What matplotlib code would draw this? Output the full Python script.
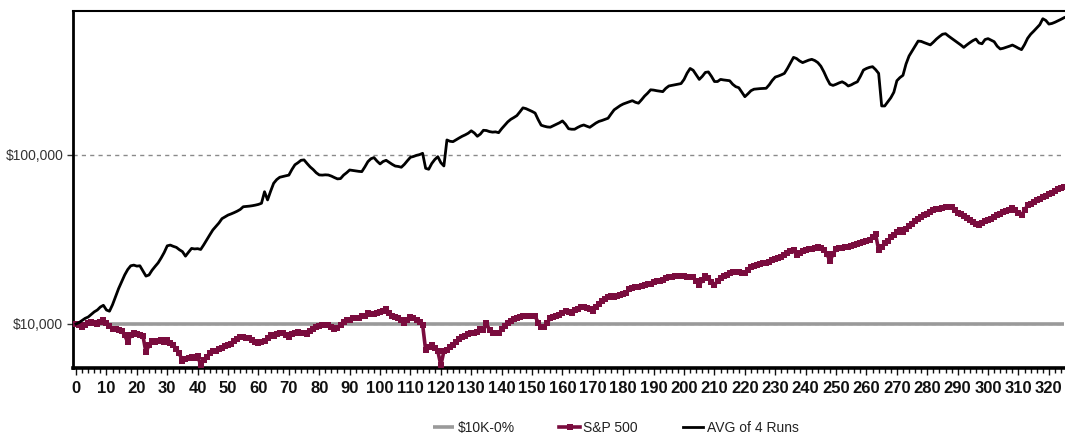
import numpy as np
import matplotlib
matplotlib.use("Agg")
import matplotlib.pyplot as plt
from matplotlib.ticker import MultipleLocator, FixedLocator, FixedFormatter, NullLocator

# ---- data (values in thousands of dollars, one per month) ----
avg_k = [
    10.0, 10.2, 10.5, 10.8, 11.0, 11.4, 11.8, 12.1, 12.6, 12.9,
    12.1, 11.9, 13.0, 14.5, 16.2, 17.8, 19.5, 21.0, 22.1, 22.3,
    22.0, 22.1, 20.6, 19.2, 19.5, 20.8, 21.9, 23.0, 24.6, 26.5,
    29.0, 29.3, 28.8, 28.4, 27.5, 26.8, 25.2, 26.6, 28.0, 27.8,
    27.9, 27.6, 29.4, 31.5, 33.7, 36.0, 37.8, 39.6, 42.0, 43.0,
    44.1, 44.8, 45.6, 46.5, 47.6, 49.4, 49.6, 49.8, 50.1, 50.5,
    51.0, 51.8, 60.6, 54.2, 61.0, 68.0, 71.5, 73.8, 74.6, 75.3,
    76.0, 82.0, 87.5, 90.0, 93.0, 93.5, 89.0, 85.0, 82.0, 78.5,
    76.2, 76.0, 76.3, 76.1, 75.0, 73.5, 72.2, 72.5, 76.0, 78.5,
    81.5, 81.0, 80.5, 80.0, 79.7, 85.0, 91.3, 95.0, 96.5, 92.0,
    88.5, 91.5, 93.0, 90.5, 88.0, 86.0, 85.5, 84.6, 88.0, 92.5,
    96.9, 98.0, 99.5, 100.5, 102.3, 83.4, 82.3, 89.0, 94.0, 97.7,
    90.0, 86.1, 122.7, 120.5, 119.9, 123.0, 126.0, 129.0, 131.5, 134.5,
    139.0, 135.0, 129.0, 133.0, 140.0, 139.5, 137.5, 136.5, 137.0, 135.5,
    143.0, 150.0, 157.0, 162.5, 166.5, 171.0, 180.0, 190.0, 188.0, 184.5,
    181.0, 177.0, 162.0, 150.0, 148.0, 146.5, 146.0, 149.0, 152.0, 155.0,
    159.0, 152.0, 143.0, 142.0, 142.0, 145.5, 148.5, 150.5, 148.0, 145.8,
    150.0, 154.5, 158.0, 160.0, 162.5, 165.0, 175.0, 185.0, 190.5, 196.0,
    200.3, 203.5, 206.5, 209.5, 205.0, 202.5, 212.0, 223.0, 232.0, 243.0,
    242.0, 240.0, 238.5, 237.0, 248.0, 256.0, 258.0, 260.0, 262.0, 264.5,
    280.0, 305.0, 325.0, 317.0, 298.0, 280.0, 292.0, 308.0, 310.0, 292.0,
    272.0, 272.0, 280.0, 278.0, 276.5, 275.0, 262.0, 253.6, 250.0, 235.0,
    221.3, 230.0, 240.0, 245.0, 246.0, 247.0, 247.5, 248.1, 260.0, 276.0,
    289.0, 293.0, 298.0, 304.0, 325.0, 350.0, 378.0, 372.0, 360.0, 352.0,
    358.0, 364.0, 368.0, 362.0, 352.0, 335.0, 310.0, 283.0, 262.0, 258.0,
    262.0, 267.0, 271.0, 265.0, 256.0, 260.0, 266.0, 271.0, 292.0, 318.0,
    325.0, 330.0, 333.0, 320.0, 304.0, 195.0, 195.0, 206.0, 218.0, 235.0,
    275.0, 287.0, 296.0, 345.0, 385.0, 412.0, 440.0, 472.0, 470.0, 462.0,
    455.0, 448.0, 465.0, 485.0, 502.0, 518.0, 522.0, 505.0, 490.0, 475.0,
    462.0, 448.0, 433.0, 448.0, 462.0, 475.0, 485.0, 460.0, 455.0, 482.0,
    488.0, 478.0, 468.0, 440.0, 424.0, 428.0, 434.0, 440.0, 447.0, 438.0,
    428.0, 420.0, 450.0, 490.0, 518.0, 540.0, 565.0, 590.0, 640.0, 625.0,
    595.0, 600.0, 610.0, 622.0, 635.0, 649.0,
]

sp500_k = [
    10.0, 9.8, 9.6, 9.9, 10.1, 10.3, 10.2, 10.0, 10.3, 10.5,
    10.1, 9.7, 9.4, 9.3, 9.2, 9.1, 8.6, 7.8, 8.6, 8.8,
    8.7, 8.6, 8.5, 6.8, 7.5, 7.9, 7.8, 7.9, 8.0, 7.8,
    8.0, 7.7, 7.5, 7.1, 6.7, 6.0, 6.2, 6.3, 6.4, 6.3,
    6.5, 5.7, 6.1, 6.4, 6.7, 6.9, 6.9, 7.1, 7.2, 7.4,
    7.5, 7.6, 7.9, 8.1, 8.4, 8.4, 8.3, 8.3, 8.0, 7.8,
    7.7, 7.8, 7.9, 8.3, 8.6, 8.5, 8.7, 8.9, 8.8, 8.6,
    8.4, 8.7, 8.9, 9.0, 8.9, 8.8, 8.7, 9.1, 9.3, 9.6,
    9.7, 9.9, 9.8, 9.9, 9.6, 9.3, 9.5, 9.9, 10.3, 10.5,
    10.6, 10.8, 10.9, 10.8, 11.1, 11.2, 11.6, 11.5, 11.4, 11.6,
    11.7, 11.9, 12.2, 11.6, 11.2, 11.0, 10.8, 10.5, 10.1, 10.6,
    11.0, 10.8, 10.5, 10.3, 9.9, 7.0, 7.3, 7.5, 7.2, 6.9,
    5.7, 6.9, 7.0, 7.3, 7.5, 7.8, 8.1, 8.4, 8.5, 8.7,
    8.9, 8.8, 9.0, 9.3, 9.2, 10.1, 9.2, 8.8, 8.9, 8.8,
    9.3, 9.7, 10.1, 10.4, 10.7, 10.9, 11.0, 11.1, 11.1, 11.1,
    11.2, 11.1, 10.2, 9.6, 9.6, 10.2, 10.8, 11.0, 11.1, 11.3,
    11.6, 12.0, 11.7, 11.6, 12.1, 12.3, 12.6, 12.6, 12.4, 12.2,
    12.0, 12.6, 13.2, 13.6, 14.0, 14.4, 14.6, 14.5, 14.6, 14.9,
    15.1, 15.2, 16.2, 16.3, 16.5, 16.6, 16.7, 16.9, 17.2, 17.3,
    17.6, 17.9, 18.0, 18.3, 18.6, 18.9, 19.0, 19.1, 19.2, 19.3,
    19.1, 19.0, 19.0, 18.9, 18.0, 17.0, 18.2, 19.2, 18.8, 17.6,
    17.0, 18.0, 18.8, 19.1, 19.5, 19.9, 20.3, 20.4, 20.2, 20.0,
    20.1, 20.9, 21.7, 22.0, 22.3, 22.6, 22.9, 23.1, 23.4, 23.8,
    24.2, 24.5, 25.0, 25.6, 26.3, 27.2, 27.3, 25.6, 26.3, 27.0,
    27.4, 27.6, 27.9, 28.2, 28.6, 28.3, 27.4, 26.0, 23.5, 26.0,
    27.7, 28.0, 28.2, 28.4, 28.6, 29.0, 29.4, 29.9, 30.3, 30.6,
    31.0, 31.4, 32.5, 34.0, 27.4, 28.5, 30.0, 31.0, 32.5, 33.8,
    35.0, 36.0, 35.0, 36.5, 38.0, 39.0, 40.5, 42.0, 43.0, 44.2,
    45.0, 46.0, 47.0, 47.8, 48.2, 48.8, 49.3, 49.5, 49.0, 47.5,
    45.5, 45.0, 43.5, 42.3, 41.3, 40.2, 39.0, 38.6, 39.5, 40.5,
    41.2, 42.0, 43.0, 44.0, 45.0, 45.8, 46.6, 47.5, 48.4, 47.0,
    45.5, 44.2, 47.0, 50.5, 51.5, 52.8, 54.0, 55.2, 56.5, 57.3,
    58.5, 59.8, 61.2, 62.5, 63.7, 65.0,
]

flat_k = [10.0] * len(avg_k)          # $10K-0%
months = list(range(len(avg_k)))

series_labels = ["$10K-0%", "S&P 500", "AVG of 4 Runs"]
ytick_values = [10000, 100000]
ytick_labels = ["$10,000", "$100,000"]

# ---- figure ----
W, H = 1065, 436
fig = plt.figure(figsize=(W / 100, H / 100), dpi=100)
ax = fig.add_axes([73 / W, 1 - 368 / H, 1 - 73 / W, (368 - 11) / H])

to_dollars = lambda vals: [v * 1000 for v in vals]

l_flat, = ax.plot(months, to_dollars(flat_k), color="#9a9a9a", lw=2.6,
                  solid_capstyle="butt", zorder=2, label=series_labels[0])
l_sp, = ax.plot(months, to_dollars(sp500_k), color="#7a0c3e", lw=2.6,
                marker="s", markersize=4.2, markeredgewidth=0,
                zorder=3, label=series_labels[1])
l_avg, = ax.plot(months, to_dollars(avg_k), color="#000000", lw=2.0,
                 zorder=4, label=series_labels[2])

ax.set_yscale("log")
ax.set_ylim(5490, 711000)
ax.set_xlim(-1, 325.3)

ax.yaxis.set_major_locator(FixedLocator(ytick_values))
ax.yaxis.set_major_formatter(FixedFormatter(ytick_labels))
ax.yaxis.set_minor_locator(NullLocator())
ax.grid(axis="y", which="major", linestyle=(0, (3, 3)), color="#8a8a8a", lw=1.0, zorder=1)

ax.xaxis.set_major_locator(MultipleLocator(10))
ax.xaxis.set_minor_locator(MultipleLocator(2))
ax.tick_params(axis="x", which="major", direction="out", length=5, width=1,
               pad=4, labelsize=12, colors="#111111")
ax.tick_params(axis="x", which="minor", direction="out", length=3.5, width=1, colors="#111111")
ax.tick_params(axis="y", which="major", direction="out", length=4, width=1,
               pad=3, labelsize=10, colors="#333333")
for lab in ax.get_xticklabels():
    lab.set_fontweight("bold")
    lab.set_family(["Liberation Sans Narrow", "Liberation Sans"])
for lab in ax.get_yticklabels():
    lab.set_family(["Liberation Sans"])

ax.spines["right"].set_visible(False)
ax.spines["left"].set_linewidth(2.0)
ax.spines["bottom"].set_linewidth(2.6)
ax.spines["top"].set_linewidth(1.5)

leg = fig.legend([l_flat, l_sp, l_avg], series_labels, loc="center",
                 bbox_to_anchor=(616 / W, 1 - 428 / H), ncol=3, frameon=False,
                 prop={"family": "Liberation Sans", "size": 10},
                 handlelength=1.5, handletextpad=0.25, columnspacing=3.2,
                 numpoints=1)
for t in leg.get_texts():
    t.set_color("#222222")

fig.savefig("out.png", dpi=100)
